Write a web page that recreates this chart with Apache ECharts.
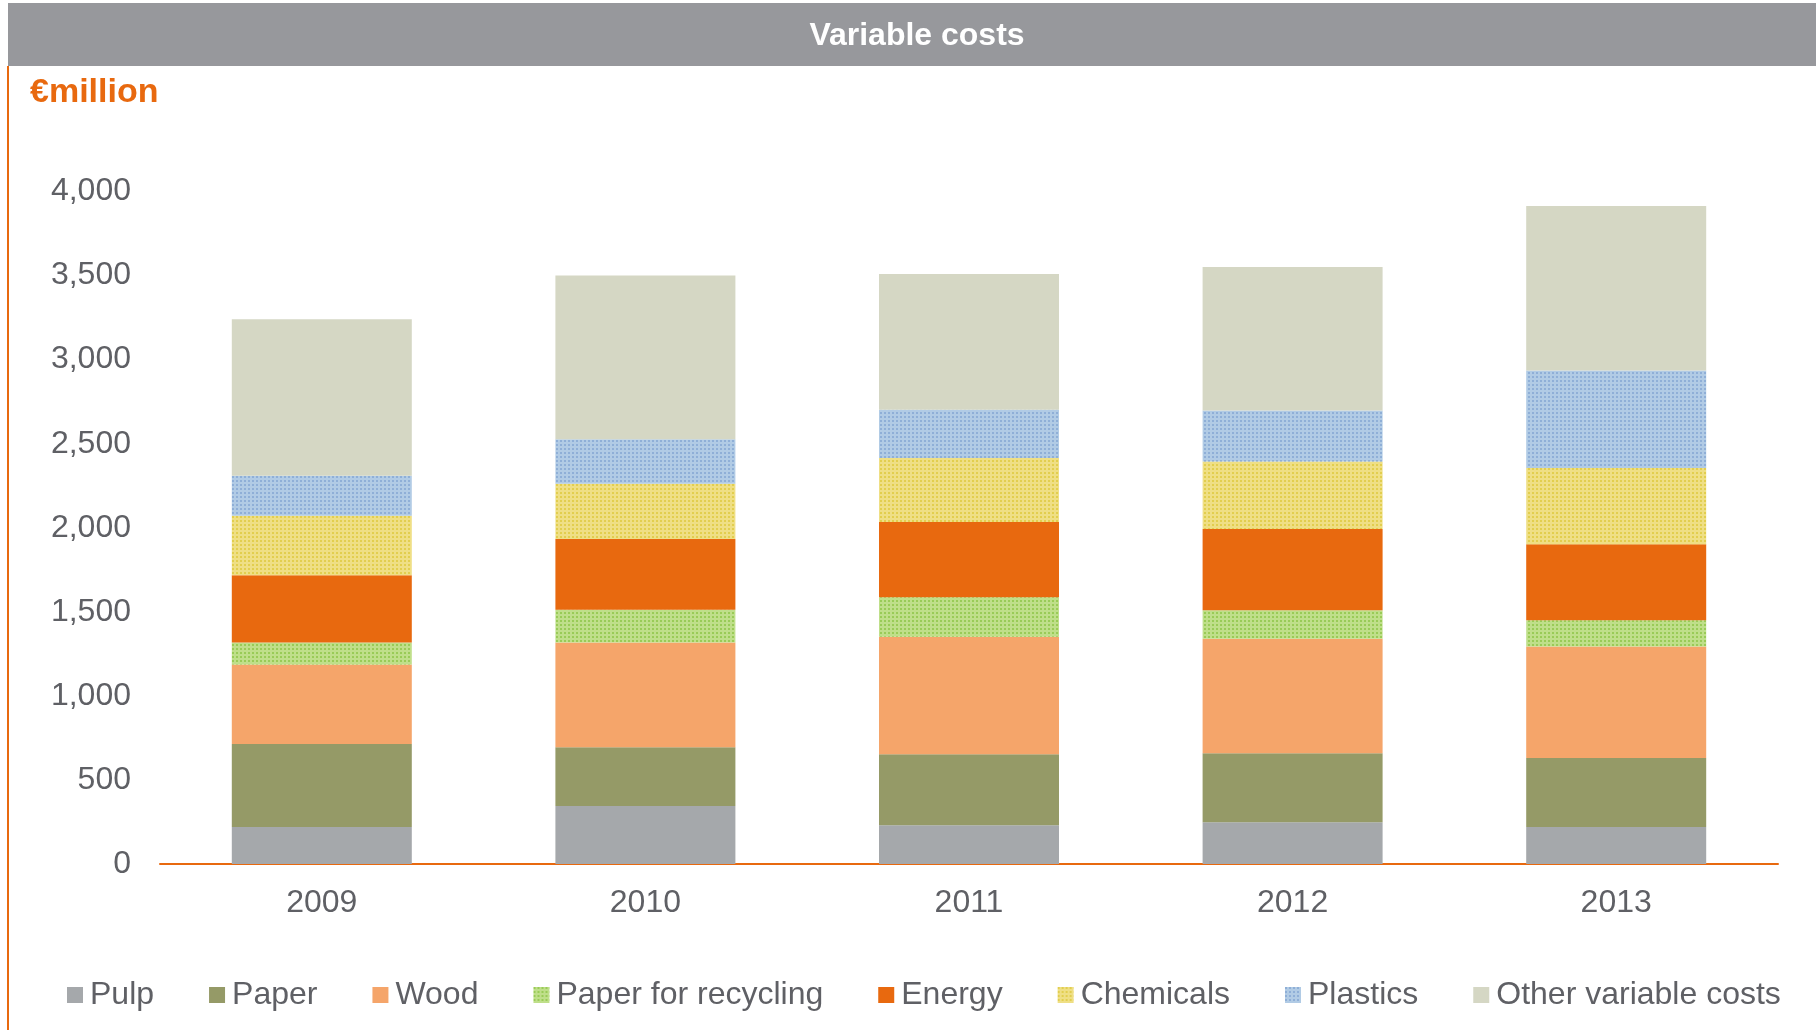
<!DOCTYPE html>
<html>
<head>
<meta charset="utf-8">
<script src="https://cdn.jsdelivr.net/npm/echarts@6/dist/echarts.min.js"></script>
<style>
html,body{margin:0;padding:0;background:#fff;}
#chart{width:1816px;height:1030px;}
</style>
</head>
<body>
<div id="chart"></div>
<script>
const categories = ['2009', '2010', '2011', '2012', '2013'];
const yTicks = [0, 500, 1000, 1500, 2000, 2500, 3000, 3500, 4000];
const pulp = [220, 345, 230, 249, 220];
const paper = [494, 349, 423, 409, 411];
const wood = [472, 623, 699, 682, 662];
const paperForRecycling = [131, 195, 235, 170, 157];
const energy = [400, 421, 447, 482, 452];
const chemicals = [355, 329, 381, 402, 454];
const plastics = [238, 264, 287, 304, 580];
const otherVariable = [930, 974, 807, 853, 978];

const FONT = '"Liberation Sans", Arial, sans-serif';
const ORANGE = '#e8690f';
const TEXT = '#5f6065';

function mkSeries(name, data, color, decalColor) {
  const s = {
    name: name,
    type: 'bar',
    stack: 'total',
    barWidth: 180,
    data: data,
    itemStyle: { color: color }
  };
  if (decalColor) {
    s.itemStyle.decal = {
      symbol: 'rect',
      symbolSize: 1,
      color: decalColor,
      dashArrayX: [2, 2],
      dashArrayY: [2, 2],
      rotation: 0
    };
  }
  return s;
}

const chart = echarts.init(document.getElementById('chart'), null, { renderer: 'canvas' });
chart.setOption({
  animation: false,
  backgroundColor: '#ffffff',
  textStyle: { fontFamily: FONT },
  graphic: [
    { type: 'rect', shape: { x: 8, y: 3, width: 1808, height: 63 }, style: { fill: '#97989c' }, z: 0 },
    { type: 'rect', shape: { x: 7, y: 66, width: 2, height: 964 }, style: { fill: ORANGE }, z: 0 },
    { type: 'text', x: 917, y: 36, style: { text: 'Variable costs', fill: '#ffffff', font: 'bold 32px ' + FONT, textAlign: 'center', textVerticalAlign: 'middle' }, z: 10 },
    { type: 'text', x: 30, y: 93, style: { text: '€million', fill: ORANGE, font: 'bold 34px ' + FONT, textAlign: 'left', textVerticalAlign: 'middle' }, z: 10 }
  ],
  legend: {
    left: 62,
    top: 974,
    itemWidth: 16,
    itemHeight: 16,
    itemGap: 55,
    icon: 'rect',
    textStyle: { color: TEXT, fontSize: 32, fontFamily: FONT, padding: [0, 0, 0, 2] },
    data: ['Pulp', 'Paper', 'Wood', 'Paper for recycling', 'Energy', 'Chemicals', 'Plastics', 'Other variable costs']
  },
  grid: { left: 160, right: 38, top: 191.5, bottom: 166, containLabel: false },
  xAxis: {
    type: 'category',
    data: categories,
    axisLine: { show: true, lineStyle: { color: ORANGE, width: 2 } },
    axisTick: { show: false },
    axisLabel: { color: TEXT, fontSize: 32, fontFamily: FONT, margin: 23 }
  },
  yAxis: {
    type: 'value',
    min: yTicks[0],
    max: yTicks[yTicks.length - 1],
    interval: 500,
    axisLine: { show: false },
    axisTick: { show: false },
    splitLine: { show: false },
    axisLabel: {
      color: TEXT, fontSize: 32, fontFamily: FONT, margin: 29,
      formatter: function (v) { return v.toLocaleString('en-US'); }
    }
  },
  series: [
    mkSeries('Pulp', pulp, '#a5a8ab'),
    mkSeries('Paper', paper, '#959a67'),
    mkSeries('Wood', wood, '#f5a56a'),
    mkSeries('Paper for recycling', paperForRecycling, '#bfdf8a', 'rgba(140,196,70,0.75)'),
    mkSeries('Energy', energy, ORANGE),
    mkSeries('Chemicals', chemicals, '#efdf85', 'rgba(222,200,60,0.75)'),
    mkSeries('Plastics', plastics, '#b1cbe5', 'rgba(132,166,210,0.75)'),
    mkSeries('Other variable costs', otherVariable, '#d5d7c4')
  ]
});
</script>
</body>
</html>
